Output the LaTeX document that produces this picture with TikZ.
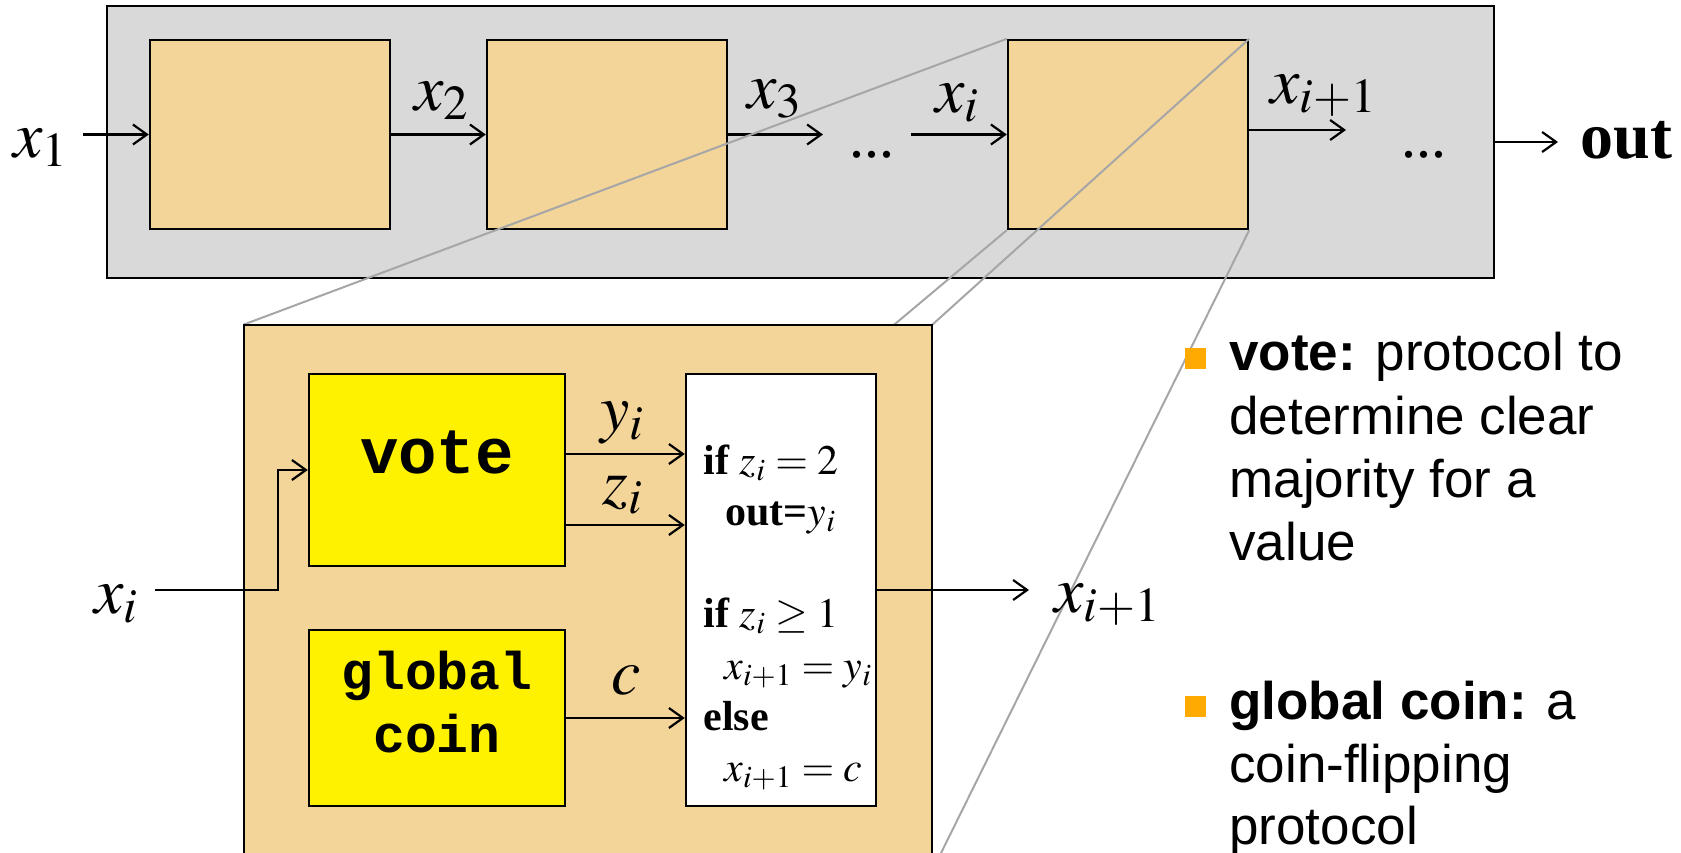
\documentclass[tikz,border=0pt]{standalone}
\usepackage{mathptmx}
\usepackage{fontspec}
\setmainfont{Liberation Serif}
\newfontfamily\arialfont{Liberation Sans}
\newfontfamily\courfont{Liberation Mono}
\usetikzlibrary{arrows.meta}
\definecolor{panelgray}{RGB}{217,217,217}
\definecolor{stagetan}{RGB}{243,213,153}
\definecolor{zoomgray}{RGB}{166,166,166}
\definecolor{bulletorange}{RGB}{255,170,0}
\newcommand\bigsize{\fontsize{33}{40}\selectfont}
\newcommand\nxt{x_{i\mathrm{+}1}}

\begin{document}
\begin{tikzpicture}[x=0.5pt,y=-0.5pt,>={Straight Barb[length=7pt,width=10pt]},
  box/.style={draw,line width=1.2pt,inner sep=0pt},
  stage/.style={box,fill=stagetan,minimum width=120pt,minimum height=94.5pt},
  ybox/.style={box,fill=yellow,minimum width=128pt},
  lbl/.style={anchor=base west,inner sep=0pt,font=\bigsize},
  mono/.style={anchor=base,inner sep=0pt,font=\courfont\bfseries\fontsize{#1}{#1}\selectfont},
  rule/.style={anchor=base west,inner sep=0pt,font=\fontsize{21}{25}\selectfont},
  note/.style={anchor=base west,inner sep=0pt,font=\arialfont\fontsize{26.5}{32}\selectfont},
  conn/.style={line width=1.1pt,->},
  zoomline/.style={draw=zoomgray,line width=1pt}]
 \useasboundingbox (0,0) rectangle (1681,852);
 \clip (0,0) rectangle (1681,852);
 % chain of stages
 \node[box,fill=panelgray,minimum width=693.5pt,minimum height=136pt] (chain) at (800.5,142) {};
 \node[stage] (s1) at (270,134.5) {};
 \node[stage] (s2) at (607,134.5) {};
 \node[stage] (s3) at (1128,134.5) {};
 \node[lbl] (x1) at (13,157) {$x_1$};
 \node[lbl] (x2) at (414,110) {$x_2$};
 \node[lbl] (x3) at (747,108) {$x_3$};
 \node[lbl] (xi) at (935,112) {$x_i$};
 \node[lbl] (xnext) at (1270,103) {$\nxt$};
 \node[lbl,font=\fontsize{30}{36}\selectfont] (dotsa) at (849,157) {...};
 \node[lbl,font=\fontsize{30}{36}\selectfont] (dotsb) at (1401,157) {...};
 \node[lbl,font=\bigsize\bfseries] (out) at (1580,158) {out};
 \coordinate (in1) at (83,134.5);
 \coordinate (to3) at (823,134.5);
 \coordinate (fromi) at (911,134.5);
 \coordinate (tonext) at (1346,130);
 \coordinate (toout) at (1558,142);
 \draw[conn] (in1) -- (s1);
 \draw[conn] (s1) -- (s2);
 \draw[conn] (s2) -- (to3);
 \draw[conn] (fromi) -- (s3);
 \draw[conn] (s3.east |- tonext) -- (tonext);
 \draw[conn] (chain.east) -- (toout);
 % zoom into stage i
 \node[inner sep=0pt,minimum width=344pt,minimum height=272.5pt] (zoomframe) at (588,597.5) {};
 \foreach \c in {north west,north east,south west,south east}
  \draw[zoomline] (s3.\c) -- (zoomframe.\c);
 \node[box,fill=stagetan,minimum width=344pt,minimum height=272.5pt] (stagei) at (zoomframe) {};
 \node[ybox,minimum height=96pt] (vote) at (437,470) {};
 \node[ybox,minimum height=88pt] (coin) at (437,718) {};
 \node[box,fill=white,minimum width=95pt,minimum height=216pt] (rules) at (781,590) {};
 \node[mono=32] (votetxt) at (437,473) {vote};
 \node[mono=26.5] (cointxta) at (437,689) {global};
 \node[mono=26.5] (cointxtb) at (437,752) {coin};
 \node[lbl] (xin) at (94,613) {$x_i$};
 \node[lbl] (xout) at (1054,612) {$\nxt$};
 \node[lbl] (ylbl) at (600,430) {$y_i$};
 \node[lbl] (zlbl) at (602,504) {$z_i$};
 \node[lbl] (clbl) at (611,694) {$c$};
 \coordinate (instart) at (155,590);
 \coordinate (outend) at (1029,590);
 \draw[conn] (instart) -- (278,590) |- (vote.west);
 \draw[conn] ([yshift=8pt]vote.east) -- ([yshift=8pt]vote.east -| rules.west);
 \draw[conn] ([yshift=-27.5pt]vote.east) -- ([yshift=-27.5pt]vote.east -| rules.west);
 \draw[conn] (coin.east) -- (coin.east -| rules.west);
 \draw[conn] (rules.east) -- (outend);
 \node[rule] (r1) at (703,474) {\textbf{if} $z_i = 2$};
 \node[rule] (r2) at (725,525) {\textbf{out=}$y_i$};
 \node[rule] (r3) at (703,627) {\textbf{if} $z_i \geq 1$};
 \node[rule] (r4) at (724,679) {$\nxt = y_i$};
 \node[rule] (r5) at (703,730) {\textbf{else}};
 \node[rule] (r6) at (724,781) {$\nxt = c$};
 % notes
 \node[fill=bulletorange,minimum size=10.5pt,inner sep=0pt] (bula) at (1195,358) {};
 \node[fill=bulletorange,minimum size=10.5pt,inner sep=0pt] (bulb) at (1195,706) {};
 \node[note] (na1) at (1229,370) {\textbf{vote:} protocol to};
 \node[note] (na2) at (1229,434) {determine clear};
 \node[note] (na3) at (1229,497) {majority for a};
 \node[note] (na4) at (1229,560) {value};
 \node[note] (nb1) at (1229,719) {\textbf{global coin:} a};
 \node[note] (nb2) at (1229,782) {coin-flipping};
 \node[note] (nb3) at (1229,844) {protocol};
\end{tikzpicture}
\end{document}
